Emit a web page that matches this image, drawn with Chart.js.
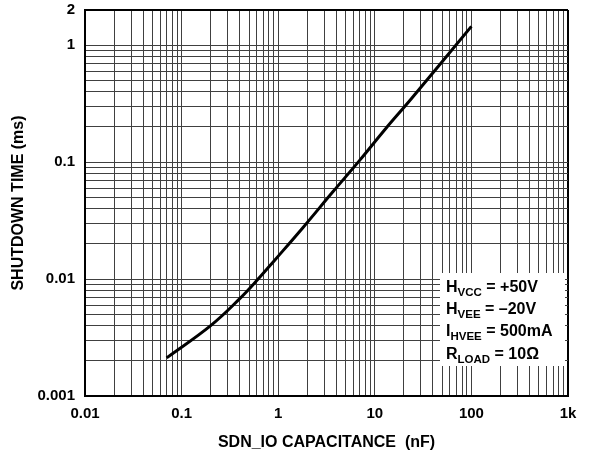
<!DOCTYPE html>
<html>
<head>
<meta charset="utf-8">
<script src="https://cdn.jsdelivr.net/npm/chart.js@4"></script>
<style>
  html, body { margin: 0; padding: 0; background: #fff; }
  canvas { display: block; }
</style>
</head>
<body>
<canvas id="chart" width="594" height="453"></canvas>
<script>
// shutdown time vs SDN_IO capacitance (log-log)
const capacitance = [0.07, 0.2, 0.4, 0.6, 0.92, 1.8, 3.7, 7, 13, 24, 100];
const shutdownTime = [0.00212, 0.0040, 0.0068, 0.0097, 0.0145, 0.0275, 0.056, 0.104, 0.194, 0.35, 1.45];

const xTickLabels = { 0.01: '0.01', 0.1: '0.1', 1: '1', 10: '10', 100: '100', 1000: '1k' };
const yTickLabels = { 0.001: '0.001', 0.01: '0.01', 0.1: '0.1', 1: '1', 2: '2' };

const conditions = [
  ['H', 'VCC', ' = +50V'],
  ['H', 'VEE', ' = \u201320V'],
  ['I', 'HVEE', ' = 500mA'],
  ['R', 'LOAD', ' = 10\u03A9'],
];

const FONT = "'Liberation Sans', Arial, Helvetica, sans-serif";
const GRID = '#404040';

// every 1..9 multiple of each decade between lo and hi
function logTicks(lo, hi) {
  const out = [];
  for (let d = lo; d < hi * 1.0001; d *= 10) {
    for (let m = 1; m <= 9; m++) {
      const v = +(m * d).toPrecision(3);
      if (v <= hi * 1.0001) out.push({ value: v });
    }
  }
  return out;
}

// white box with the test conditions, drawn over the grid
const conditionsBox = {
  id: 'conditionsBox',
  beforeDatasetsDraw(chart) {
    const { ctx, chartArea } = chart;
    const bx = chartArea.right - 128;
    const by = chartArea.bottom - 123;
    ctx.save();
    ctx.fillStyle = '#fff';
    ctx.fillRect(bx, by, 125, 93);
    ctx.fillStyle = '#000';
    ctx.textBaseline = 'alphabetic';
    conditions.forEach((row, i) => {
      let x = bx + 6;
      const y = by + 19 + i * 22.2;
      ctx.font = 'bold 16px ' + FONT;
      ctx.fillText(row[0], x, y);
      x += ctx.measureText(row[0]).width;
      ctx.font = 'bold 11.5px ' + FONT;
      ctx.fillText(row[1], x, y + 4);
      x += ctx.measureText(row[1]).width;
      ctx.font = 'bold 16px ' + FONT;
      ctx.fillText(row[2], x, y);
    });
    ctx.restore();
  }
};

new Chart(document.getElementById('chart'), {
  type: 'line',
  data: {
    datasets: [{
      data: capacitance.map((c, i) => ({ x: c, y: shutdownTime[i] })),
      borderColor: '#000',
      borderWidth: 3,
      pointRadius: 0,
      tension: 0.4,
      fill: false,
    }]
  },
  options: {
    responsive: false,
    animation: false,
    devicePixelRatio: 1,
    layout: { padding: { left: 0, right: 26, top: 10, bottom: 0 } },
    plugins: { legend: { display: false }, tooltip: { enabled: false } },
    scales: {
      x: {
        type: 'logarithmic',
        min: 0.01,
        max: 1000,
        afterBuildTicks: (scale) => { scale.ticks = logTicks(0.01, 1000); },
        afterFit: (scale) => { scale.height = 57; },
        ticks: {
          autoSkip: false,
          maxRotation: 0,
          padding: 9,
          color: '#000',
          font: { family: FONT, size: 15, weight: 'bold' },
          callback: (v) => xTickLabels[v] || '',
        },
        grid: {
          drawTicks: false,
          color: (c) => (c.tick && c.tick.value === 1000 ? '#000' : GRID),
          lineWidth: (c) => (c.tick && c.tick.value === 1000 ? 2 : 1),
        },
        border: { color: '#000', width: 2 },
        title: {
          display: true,
          text: 'SDN_IO CAPACITANCE  (nF)',
          color: '#000',
          font: { family: FONT, size: 16, weight: 'bold' },
          padding: { top: 0, bottom: 1 },
        },
      },
      y: {
        type: 'logarithmic',
        min: 0.001,
        max: 2,
        afterBuildTicks: (scale) => { scale.ticks = logTicks(0.001, 2); },
        afterFit: (scale) => {
          scale.width = 85;
          scale.paddingTop = 0;
          scale.paddingBottom = 0;
        },
        ticks: {
          autoSkip: false,
          padding: 10,
          color: '#000',
          font: { family: FONT, size: 15, weight: 'bold' },
          callback: (v) => yTickLabels[v] || '',
        },
        grid: {
          drawTicks: false,
          color: (c) => (c.tick && c.tick.value === 2 ? '#000' : GRID),
          lineWidth: (c) => (c.tick && c.tick.value === 2 ? 2 : 1),
        },
        border: { color: '#000', width: 2 },
        title: {
          display: true,
          text: 'SHUTDOWN TIME (ms)',
          color: '#000',
          font: { family: FONT, size: 16, weight: 'bold' },
          padding: { top: 9, bottom: 0 },
        },
      },
    },
  },
  plugins: [conditionsBox],
});
</script>
</body>
</html>
